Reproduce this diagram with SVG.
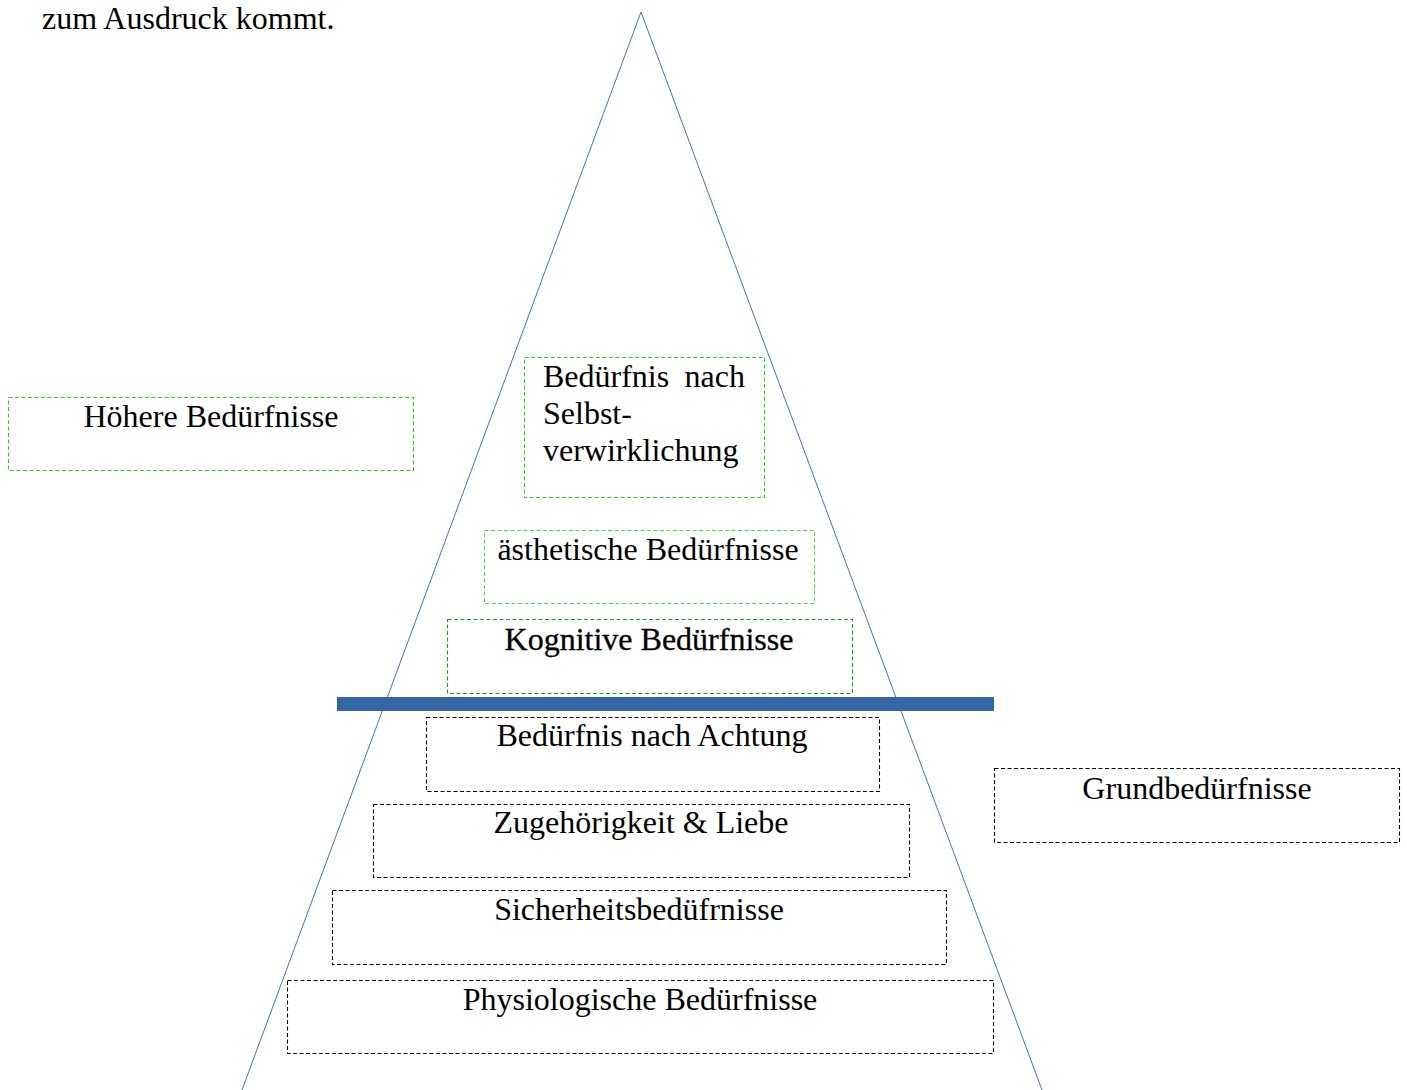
<svg xmlns="http://www.w3.org/2000/svg" width="1407" height="1090" viewBox="0 0 1407 1090">
<style>
text{font-family:"Liberation Serif","Times New Roman",serif;font-size:32px;fill:#000}
.c{text-anchor:middle}
.box{fill:#fff;stroke-width:1.1;stroke-dasharray:4 2.5}
.g1{stroke:#33cc33}
.g2{stroke:#55d555}
.g3{stroke:#1f9f1f}
.k{stroke:#000}
</style>
<rect width="1407" height="1090" fill="#fff"/>
<text x="42" y="29">zum Ausdruck kommt.</text>
<g id="connectors">
<polyline points="242,1090 641,12 1042,1090" fill="none" stroke="#4472c4" stroke-width="1"/>
<rect x="337" y="697" width="657" height="14" fill="#3465a4"/>
</g>
<g id="hoehere"><rect class="box g1" x="8.5" y="397.5" width="405" height="73"/><text class="c" x="211" y="427">Höhere Bedürfnisse</text></g>
<g id="selbst"><rect class="box g1" x="524.5" y="357.5" width="240" height="140"/><text x="543" y="387">Bedürfnis</text><text x="745" y="387" text-anchor="end">nach</text><text x="543" y="424">Selbst-</text><text x="543" y="461">verwirklichung</text></g>
<g id="aesthetisch"><rect class="box g2" x="484.5" y="530.5" width="330" height="73"/><text class="c" x="648" y="560">ästhetische Bedürfnisse</text></g>
<g id="kognitiv"><rect class="box g3" x="447.5" y="619.5" width="405" height="74"/><text class="c" x="649" y="650" stroke="#000" stroke-width="0.3">Kognitive Bedürfnisse</text></g>
<g id="achtung"><rect class="box k" x="426.5" y="717.5" width="453" height="74"/><text class="c" x="652" y="746">Bedürfnis nach Achtung</text></g>
<g id="grund"><rect class="box k" x="994.5" y="768.5" width="405" height="74"/><text class="c" x="1197" y="799">Grundbedürfnisse</text></g>
<g id="zugehoerigkeit"><rect class="box k" x="373.5" y="804.5" width="536" height="73"/><text class="c" x="641" y="833">Zugehörigkeit &amp; Liebe</text></g>
<g id="sicherheit"><rect class="box k" x="332.5" y="890.5" width="614" height="74"/><text class="c" x="639" y="920">Sicherheitsbedüfrnisse</text></g>
<g id="physio"><rect class="box k" x="287.5" y="980.5" width="706" height="73"/><text class="c" x="640" y="1010">Physiologische Bedürfnisse</text></g>
</svg>
